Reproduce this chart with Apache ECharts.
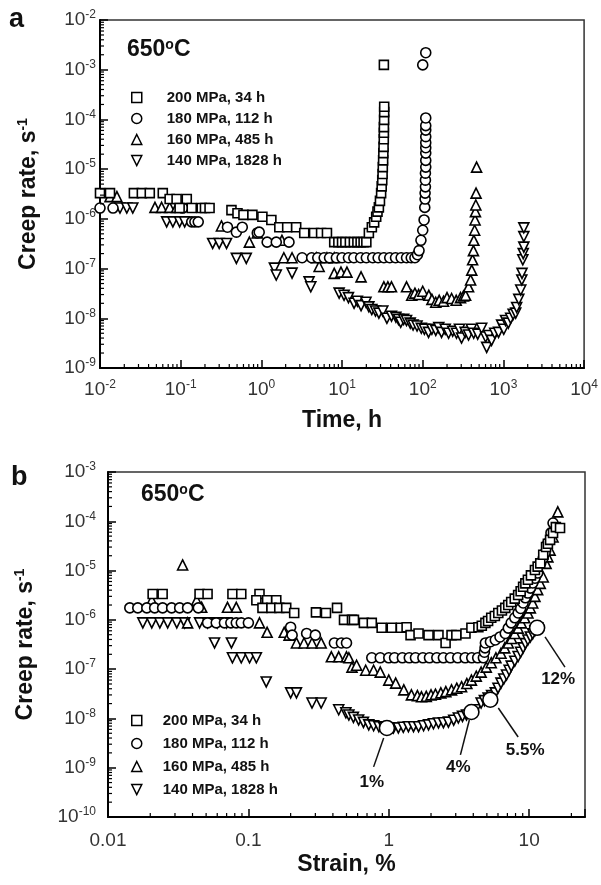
<!DOCTYPE html>
<html><head><meta charset="utf-8">
<script src="https://cdn.jsdelivr.net/npm/echarts@6/dist/echarts.min.js"></script>
<style>html,body{margin:0;padding:0;background:#fff}#c{width:601px;height:885px}</style>
</head><body><div id="c"></div>
<script>
// ---------- DATA ----------
const seriesNames = ['200 MPa, 34 h', '180 MPa, 112 h', '160 MPa, 485 h', '140 MPa, 1828 h'];

// Panel a: time (h) vs creep rate (1/s)
const a200Time = [0.010,0.0133,0.0263,0.033,0.0414,0.060,0.073,0.089,0.119,0.097,0.137,0.182,0.20,0.228,0.426,0.506,0.60,0.774,1.03,1.33,1.67,2.09,2.7,3.4,4.5,5.5,6.5,8.0,9.0,10,11,12.5,14,15.5,17,18.5,20,21.5,23.4,25,26.5,27.5,28.6,29.5,30.5,31,31.5,31.8,32,32.3,32.5,32.7,32.9,33,33,33.2,33.3,33.3,33];
const a200Rate = [3.3e-6,3.3e-6,3.3e-6,3.3e-6,3.3e-6,3.3e-6,2.5e-6,2.5e-6,2.5e-6,1.65e-6,1.65e-6,1.65e-6,1.65e-6,1.65e-6,1.5e-6,1.3e-6,1.2e-6,1.2e-6,1.1e-6,9.5e-7,6.8e-7,6.8e-7,6.8e-7,5.2e-7,5.2e-7,5.2e-7,5.2e-7,3.4e-7,3.4e-7,3.4e-7,3.4e-7,3.4e-7,3.4e-7,3.4e-7,3.4e-7,3.4e-7,3.4e-7,5.2e-7,6.8e-7,8.5e-7,1.1e-6,1.4e-6,1.7e-6,2.3e-6,3.3e-6,4.5e-6,6.0e-6,8.0e-6,1.1e-5,1.5e-5,2.1e-5,2.8e-5,4.0e-5,5.4e-5,7.0e-5,9.8e-5,1.4e-4,1.8e-4,1.25e-3];

const a180Time = [0.010,0.0145,0.106,0.137,0.15,0.165,0.38,0.49,0.58,0.89,0.94,1.18,1.53,2.2,3.2,4.2,5,6,7,8.5,10,12,14,17,20,24,28,33,39,46,54,63,72,80,86,90,95,100,104,106,107,107,108,108,108,109,109,109,109,109,109,109,109,109,100,109];
const a180Rate = [1.65e-6,1.65e-6,1.65e-6,8.7e-7,8.7e-7,8.7e-7,6.8e-7,5.4e-7,6.8e-7,5.2e-7,5.4e-7,3.4e-7,3.4e-7,3.4e-7,1.65e-7,1.65e-7,1.65e-7,1.65e-7,1.65e-7,1.65e-7,1.65e-7,1.65e-7,1.65e-7,1.65e-7,1.65e-7,1.65e-7,1.65e-7,1.65e-7,1.65e-7,1.65e-7,1.65e-7,1.65e-7,1.65e-7,1.65e-7,1.9e-7,2.3e-7,3.7e-7,5.9e-7,9.5e-7,1.7e-6,2.5e-6,3.3e-6,4.4e-6,6.0e-6,8.3e-6,1.1e-5,1.5e-5,2.1e-5,2.7e-5,3.4e-5,4.5e-5,6.1e-5,7.5e-5,1.07e-4,1.25e-3,2.2e-3];

const a160Time = [0.0133,0.0162,0.048,0.058,0.073,0.089,0.32,0.71,0.89,1.8,1.9,2.4,4.8,5.2,6.5,8.0,8.0,9.7,11.5,17.2,33,37,41,63,73,80,89,100,119,130,145,160,181,200,228,260,294,320,340,370,392,405,415,425,430,440,445,450,455,458,465];
const a160Rate = [2.8e-6,2.8e-6,1.7e-6,1.7e-6,1.7e-6,1.7e-6,7.2e-7,3.4e-7,5.2e-7,3.7e-7,1.65e-7,1.65e-7,1.65e-7,1.1e-7,1.65e-7,1.65e-7,8.0e-8,8.5e-8,8.5e-8,6.8e-8,4.3e-8,4.3e-8,4.3e-8,4.3e-8,2.9e-8,3.2e-8,3.0e-8,3.5e-8,2.9e-8,2.4e-8,2.1e-8,2.3e-8,2.2e-8,2.6e-8,2.5e-8,2.3e-8,2.6e-8,2.8e-8,2.9e-8,4.3e-8,5.9e-8,9.3e-8,1.5e-7,2.3e-7,3.7e-7,5.9e-7,9.5e-7,1.4e-6,1.9e-6,3.3e-6,1.1e-5];

const a140Time = [0.0177,0.0215,0.0255,0.067,0.080,0.097,0.112,0.249,0.30,0.37,0.49,0.65,1.45,1.53,2.4,3.9,4.1,9.2,10.6,12,14.1,15.5,17.2,19.8,21.5,23.4,26,28.6,32,36,41,46.5,50,53.4,58,63,70,76,85,96,105,118,130,145,158,171,190,209,235,262,285,303,335,370,400,428,480,538,602,620,660,713,780,870,950,1010,1063,1150,1230,1320,1420,1460,1550,1640,1690,1700,1740,1760,1790,1790,1790];
const a140Rate = [1.65e-6,1.65e-6,1.65e-6,8.7e-7,8.7e-7,8.7e-7,8.7e-7,3.2e-7,3.2e-7,3.2e-7,1.6e-7,1.6e-7,1.02e-7,7.4e-8,8.1e-8,5.4e-8,4.3e-8,3.2e-8,2.9e-8,2.6e-8,2.0e-8,2.2e-8,1.8e-8,2.1e-8,1.7e-8,1.5e-8,1.4e-8,1.27e-8,1.4e-8,1.0e-8,1.1e-8,1.05e-8,9.5e-9,8.3e-9,9.5e-9,9.0e-9,8.0e-9,7.3e-9,7.0e-9,6.3e-9,6.0e-9,5.2e-9,6.0e-9,5.7e-9,6.5e-9,5.2e-9,6.0e-9,5.0e-9,5.5e-9,5.0e-9,6.0e-9,4.0e-9,5.2e-9,4.6e-9,6.0e-9,5.0e-9,4.8e-9,6.3e-9,4.2e-9,2.6e-9,4.5e-9,3.6e-9,5.0e-9,5.2e-9,7.3e-9,6.0e-9,9.0e-9,8.0e-9,1.0e-8,1.2e-8,1.27e-8,1.65e-8,2.4e-8,3.7e-8,5.9e-8,8.0e-8,1.5e-7,2.0e-7,2.7e-7,4.4e-7,6.6e-7];

// Panel b: strain (%) vs creep rate (1/s)
const b200Strain = [0.0208,0.0245,0.0449,0.0512,0.077,0.089,0.12,0.114,0.136,0.158,0.126,0.146,0.166,0.186,0.212,0.303,0.357,0.428,0.48,0.547,0.565,0.665,0.757,0.89,1.05,1.22,1.34,1.43,1.63,1.92,2.26,2.54,2.8,3.03,3.52,3.88,4.35,4.6,4.88,5.1,5.37,5.7,6.03,6.4,6.76,7.1,7.45,7.9,8.35,8.7,9.06,9.4,9.8,10.3,11.0,11.5,12.0,12.6,13.2,13.6,14.1,14.8,15.5,16.6];
const b200Rate = [3.35e-6,3.35e-6,3.35e-6,3.35e-6,3.35e-6,3.35e-6,3.35e-6,2.5e-6,2.5e-6,2.5e-6,1.75e-6,1.75e-6,1.75e-6,1.75e-6,1.38e-6,1.42e-6,1.38e-6,1.75e-6,1.0e-6,1.0e-6,1.0e-6,8.7e-7,8.7e-7,6.9e-7,6.9e-7,6.9e-7,7.1e-7,4.9e-7,5.3e-7,4.9e-7,4.9e-7,3.4e-7,4.9e-7,4.9e-7,5.3e-7,6.9e-7,7.1e-7,7.6e-7,8.7e-7,9.5e-7,1.1e-6,1.2e-6,1.38e-6,1.55e-6,1.75e-6,2.0e-6,2.3e-6,2.7e-6,3.2e-6,3.8e-6,4.7e-6,5.5e-6,6.5e-6,8.0e-6,1.03e-5,1.2e-5,1.4e-5,2.1e-5,3.0e-5,3.5e-5,4.2e-5,5.8e-5,7.6e-5,7.3e-5];

const b180Strain = [0.0143,0.0163,0.0189,0.0215,0.0245,0.0284,0.0324,0.0369,0.044,0.0512,0.059,0.0675,0.075,0.082,0.089,0.10,0.2,0.205,0.26,0.30,0.41,0.46,0.50,0.757,0.87,1.0,1.1,1.25,1.4,1.55,1.75,1.95,2.2,2.45,2.75,3.1,3.5,3.9,4.3,4.72,4.8,4.85,4.88,5.3,5.74,6.2,6.76,7.1,7.45,7.9,8.35,8.7,9.06,9.4,9.8,10.2,10.6,11.0,11.5,12.1,12.6,13.0,13.6,14.3,14.8];
const b180Rate = [1.75e-6,1.75e-6,1.75e-6,1.75e-6,1.75e-6,1.75e-6,1.75e-6,1.75e-6,1.75e-6,8.7e-7,8.7e-7,8.7e-7,8.7e-7,8.7e-7,8.7e-7,8.7e-7,7.1e-7,4.9e-7,5.3e-7,4.9e-7,3.4e-7,3.4e-7,3.4e-7,1.7e-7,1.7e-7,1.7e-7,1.7e-7,1.7e-7,1.7e-7,1.7e-7,1.7e-7,1.7e-7,1.7e-7,1.7e-7,1.7e-7,1.7e-7,1.7e-7,1.7e-7,1.7e-7,1.7e-7,2.2e-7,2.7e-7,3.4e-7,3.6e-7,3.9e-7,4.5e-7,5.3e-7,6.8e-7,8.7e-7,1.1e-6,1.38e-6,1.7e-6,2.2e-6,2.8e-6,3.5e-6,4.4e-6,5.6e-6,7.0e-6,8.9e-6,1.4e-5,1.8e-5,2.3e-5,3.6e-5,5.8e-5,9.2e-5];

const b160Strain = [0.0205,0.034,0.0428,0.0465,0.071,0.082,0.0369,0.12,0.136,0.18,0.195,0.22,0.249,0.284,0.33,0.39,0.44,0.5,0.52,0.547,0.59,0.685,0.78,0.87,1.0,1.12,1.28,1.45,1.6,1.71,1.85,2.0,2.15,2.35,2.55,2.8,3.05,3.3,3.6,3.88,4.2,4.55,4.95,5.37,5.8,6.3,6.7,7.1,7.5,7.9,8.35,8.8,9.3,9.8,10.2,10.6,11.0,11.5,12.0,12.6,13.2,13.6,14.1,14.8,15.3,16.0];
const b160Rate = [2.5e-6,1.3e-5,2.5e-6,1.8e-6,1.8e-6,1.8e-6,8.7e-7,8.7e-7,5.6e-7,5.6e-7,4.9e-7,3.4e-7,3.4e-7,3.4e-7,3.4e-7,1.78e-7,1.78e-7,1.78e-7,1.7e-7,1.1e-7,1.2e-7,9.5e-8,9.5e-8,8.7e-8,6.0e-8,5.2e-8,3.8e-8,3.0e-8,2.9e-8,2.75e-8,2.8e-8,3.0e-8,3.1e-8,3.3e-8,3.5e-8,3.8e-8,4.1e-8,4.4e-8,5.1e-8,6.0e-8,7.2e-8,8.7e-8,1.1e-7,1.35e-7,1.7e-7,2.1e-7,2.7e-7,3.4e-7,4.2e-7,5.3e-7,6.8e-7,8.7e-7,1.1e-6,1.38e-6,1.75e-6,2.2e-6,3.0e-6,4.1e-6,5.5e-6,7.4e-6,1.4e-5,1.9e-5,2.6e-5,4.8e-5,9.2e-5,1.55e-4];

const b140Strain = [0.0177,0.0205,0.0234,0.0266,0.0309,0.0352,0.0449,0.0512,0.06,0.07,0.0574,0.0757,0.077,0.089,0.102,0.114,0.134,0.2,0.22,0.284,0.33,0.44,0.495,0.52,0.56,0.61,0.66,0.72,0.78,0.85,0.92,1.0,1.08,1.17,1.27,1.38,1.5,1.63,1.77,1.92,2.08,2.26,2.45,2.66,2.9,3.13,3.35,3.58,3.85,4.15,4.55,4.8,5.1,5.4,5.74,6.0,6.3,6.6,6.9,7.2,7.45,7.9,8.35,8.7,9.06,9.4,9.8,10.2,10.6,11.0,11.5];
const b140Rate = [8.7e-7,8.7e-7,8.7e-7,8.7e-7,8.7e-7,8.7e-7,8.7e-7,8.7e-7,8.7e-7,8.7e-7,3.4e-7,3.4e-7,1.7e-7,1.7e-7,1.7e-7,1.7e-7,5.5e-8,3.3e-8,3.3e-8,2.05e-8,2.05e-8,1.5e-8,1.3e-8,1.17e-8,1.05e-8,9.3e-9,8.3e-9,7.4e-9,7.1e-9,6.8e-9,6.6e-9,6.4e-9,6.4e-9,6.4e-9,6.6e-9,6.8e-9,6.8e-9,6.8e-9,7.1e-9,7.4e-9,7.8e-9,8.1e-9,8.2e-9,8.4e-9,9.2e-9,1.02e-8,1.1e-8,1.17e-8,1.3e-8,1.5e-8,2.05e-8,2.3e-8,2.6e-8,2.9e-8,3.3e-8,4.1e-8,5.2e-8,6.3e-8,7.6e-8,9.5e-8,1.15e-7,1.45e-7,1.8e-7,2.2e-7,2.7e-7,3.3e-7,3.9e-7,4.5e-7,5.2e-7,6.0e-7,6.9e-7];

// Highlighted points on the 140 MPa curve (panel b)
const markStrain = [0.97, 3.88, 5.29, 11.4];
const markRate = [6.4e-9, 1.35e-8, 2.4e-8, 6.9e-7];
const markText = ['1%', '4%', '5.5%', '12%'];
const markTextStrain = [0.757, 3.13, 9.37, 16.1];
const markTextRate = [5.1e-10, 1.0e-9, 2.3e-9, 6.3e-8];
const arrowTailStrain = [0.78, 3.24, 8.35, 18.0];
const arrowTailRate = [1.04e-9, 1.82e-9, 4.2e-9, 1.1e-7];
const arrowHeadStrain = [0.92, 3.75, 6.03, 12.98];
const arrowHeadRate = [4.0e-9, 9.3e-9, 1.63e-8, 4.5e-7];

// ---------- CHART ----------
const FONT = '"Liberation Sans", Arial, Helvetica, sans-serif';
const LBL = '#333';
const pts = (xs, ys) => xs.map((x, i) => [x, ys[i]]);
const isPow = v => Math.abs(Math.log10(v) - Math.round(Math.log10(v))) < 1e-6;
const powFmt = v => isPow(v) ? '{b|10}{s|' + Math.round(Math.log10(v)) + '}' : '';
const powRich = {
  b: { fontSize: 19, color: LBL, fontFamily: FONT, lineHeight: 22 },
  s: { fontSize: 12, color: LBL, fontFamily: FONT, verticalAlign: 'top', lineHeight: 12 }
};
const nameRich = {
  n: { fontSize: 23, fontWeight: 'bold', color: '#111', fontFamily: FONT, lineHeight: 26 },
  s: { fontSize: 14, fontWeight: 'bold', color: '#111', fontFamily: FONT, verticalAlign: 'top', lineHeight: 14 }
};

function minors(e0, e1, maxV) {
  const out = [];
  for (let e = e0; e < e1; e++) for (let m = 2; m <= 9; m++) {
    const v = m * Math.pow(10, e);
    if (maxV == null || v <= maxV * 1.0001) out.push(v);
  }
  return out;
}
function tickSeries(idx, vals, fixed, dir, len) {
  return {
    type: 'custom', xAxisIndex: idx, yAxisIndex: idx, silent: true, clip: false, z: 5,
    data: vals.map(v => dir === 'x' ? [v, fixed] : [fixed, v]),
    renderItem: (params, api) => {
      const p = api.coord([api.value(0), api.value(1)]);
      const shape = dir === 'x' ? { x1: p[0], y1: p[1], x2: p[0], y2: p[1] - len }
                                : { x1: p[0], y1: p[1], x2: p[0] + len, y2: p[1] };
      return { type: 'line', shape, style: { stroke: '#000', lineWidth: 1.2 } };
    }
  };
}

const symbols = ['rect', 'circle', 'triangle', 'triangle'];
const rotations = [0, 0, 0, 180];
const sizes = [9, 10, 10, 10];
function scatter(i, idx, data) {
  return {
    type: 'scatter', name: seriesNames[i], xAxisIndex: idx, yAxisIndex: idx,
    symbol: symbols[i], symbolRotate: rotations[i], symbolSize: sizes[i],
    itemStyle: { color: '#fff', borderColor: '#000', borderWidth: 1.6, opacity: 1 },
    emphasis: { disabled: true },
    data, silent: true, z: 3
  };
}

const axisCommon = {
  type: 'log', logBase: 10,
  axisLine: { show: true, onZero: false, lineStyle: { color: '#000', width: 2 } },
  axisTick: { show: true, inside: true, length: 8, lineStyle: { color: '#000', width: 1.5 } },
  splitLine: { show: false }, minorTick: { show: false }, minorSplitLine: { show: false }
};

const legendIcons = ['rect', 'circle', 'triangle', 'path://M0,0L10,0L5,10Z'];
const legendCommon = {
  orient: 'vertical', padding: 0, itemWidth: 10, itemHeight: 10,
  selectedMode: false,
  data: seriesNames.map((n, i) => ({ name: n, icon: legendIcons[i] })),
  itemStyle: { color: '#fff', borderColor: '#000', borderWidth: 1.5 }
};

const chart = echarts.init(document.getElementById('c'), null, { renderer: 'canvas' });
chart.setOption({
  animation: false,
  backgroundColor: '#fff',
  grid: [
    { left: 100, top: 20, width: 485, height: 348, show: true, borderColor: '#333', borderWidth: 1.5, backgroundColor: 'transparent' },
    { left: 108, top: 472, width: 477, height: 345, show: true, borderColor: '#333', borderWidth: 1.5, backgroundColor: 'transparent' }
  ],
  xAxis: [
    Object.assign({}, axisCommon, {
      gridIndex: 0, min: 0.01, max: 1e4, splitNumber: 6,
      axisLabel: { formatter: powFmt, rich: powRich, margin: 11, showMinLabel: true, showMaxLabel: true },
      name: '{n|Time, h}', nameLocation: 'middle', nameGap: 40, nameTextStyle: { rich: nameRich }
    }),
    Object.assign({}, axisCommon, {
      gridIndex: 1, min: 0.01, max: 25, splitNumber: 4,
      axisLabel: { formatter: v => isPow(v) ? String(Number(v.toPrecision(1))) : '', color: LBL, fontSize: 19, fontFamily: FONT, margin: 14 },
      name: '{n|Strain, %}', nameLocation: 'middle', nameGap: 35, nameTextStyle: { rich: nameRich }
    })
  ],
  yAxis: [
    Object.assign({}, axisCommon, {
      gridIndex: 0, min: 1e-9, max: 1e-2, splitNumber: 7,
      axisLabel: { formatter: powFmt, rich: powRich, margin: 4, showMinLabel: true, showMaxLabel: true },
      name: '{n|Creep rate, s}{s|-1}', nameLocation: 'middle', nameGap: 58, nameRotate: 90, nameTextStyle: { rich: nameRich }
    }),
    Object.assign({}, axisCommon, {
      gridIndex: 1, min: 1e-10, max: 1e-3, splitNumber: 7,
      axisLabel: { formatter: powFmt, rich: powRich, margin: 12, showMinLabel: true, showMaxLabel: true },
      name: '{n|Creep rate, s}{s|-1}', nameLocation: 'middle', nameGap: 69, nameRotate: 90, nameTextStyle: { rich: nameRich }
    })
  ],
  legend: [
    Object.assign({}, legendCommon, {
      left: 131, top: 90, itemGap: 6,
      formatter: n => '{t|' + n + '}',
      textStyle: { rich: { t: { fontSize: 15, fontWeight: 'bold', color: '#111', fontFamily: FONT, lineHeight: 16, padding: [0, 0, 0, 20] } } }
    }),
    Object.assign({}, legendCommon, {
      left: 131, top: 713, itemGap: 8,
      formatter: n => '{t|' + n + '}',
      textStyle: { rich: { t: { fontSize: 15, fontWeight: 'bold', color: '#111', fontFamily: FONT, lineHeight: 16, padding: [0, 0, 0, 16] } } }
    })
  ],
  graphic: [
    { type: 'text', left: 9, top: 6, style: { text: 'a', font: 'bold 27px ' + FONT, fill: '#111' } },
    { type: 'text', left: 11, top: 464, style: { text: 'b', font: 'bold 27px ' + FONT, fill: '#111' } },
    { type: 'text', left: 127, top: 38, style: { text: '{n|650}{s|o}{n|C}', rich: {
        n: { fontSize: 23, fontWeight: 'bold', fontFamily: FONT, fill: '#111', color: '#111', lineHeight: 24 },
        s: { fontSize: 14, fontWeight: 'bold', fontFamily: FONT, fill: '#111', color: '#111', verticalAlign: 'top', lineHeight: 14 } } } },
    { type: 'text', left: 141, top: 483, style: { text: '{n|650}{s|o}{n|C}', rich: {
        n: { fontSize: 23, fontWeight: 'bold', fontFamily: FONT, fill: '#111', color: '#111', lineHeight: 24 },
        s: { fontSize: 14, fontWeight: 'bold', fontFamily: FONT, fill: '#111', color: '#111', verticalAlign: 'top', lineHeight: 14 } } } }
  ],
  series: [
    scatter(3, 0, pts(a140Time, a140Rate)),
    scatter(2, 0, pts(a160Time, a160Rate)),
    scatter(1, 0, pts(a180Time, a180Rate)),
    scatter(0, 0, pts(a200Time, a200Rate)),
    scatter(3, 1, pts(b140Strain, b140Rate)),
    scatter(2, 1, pts(b160Strain, b160Rate)),
    scatter(1, 1, pts(b180Strain, b180Rate)),
    scatter(0, 1, pts(b200Strain, b200Rate)),
    {
      type: 'scatter', name: 'marks', xAxisIndex: 1, yAxisIndex: 1, symbol: 'circle', symbolSize: 15, z: 10, silent: true,
      itemStyle: { color: '#fff', borderColor: '#000', borderWidth: 1.6, opacity: 1 },
      emphasis: { disabled: true },
      data: pts(markStrain, markRate),
      markLine: {
        silent: true, symbol: ['none', 'arrow'], symbolSize: [0, 8], animation: false,
        lineStyle: { color: '#111', width: 1.5, type: 'solid', opacity: 1 }, label: { show: false },
        emphasis: { disabled: true },
        data: arrowTailStrain.map((s, i) => [{ coord: [s, arrowTailRate[i]] }, { coord: [arrowHeadStrain[i], arrowHeadRate[i]] }])
      },
      markPoint: {
        silent: true, symbol: 'circle', symbolSize: 0, animation: false,
        label: { show: true, position: 'inside', fontSize: 17, fontWeight: 'bold', color: '#111', fontFamily: FONT, formatter: p => p.name },
        data: markText.map((t, i) => ({ name: t, coord: [markTextStrain[i], markTextRate[i]] }))
      }
    },
    tickSeries(0, minors(-2, 4), 1e-9, 'x', 4),
    tickSeries(0, minors(-9, -2), 0.01, 'y', 4),
    tickSeries(1, minors(-2, 2, 25), 1e-10, 'x', 4),
    tickSeries(1, minors(-10, -3), 0.01, 'y', 4)
  ]
});
</script>
</body></html>
